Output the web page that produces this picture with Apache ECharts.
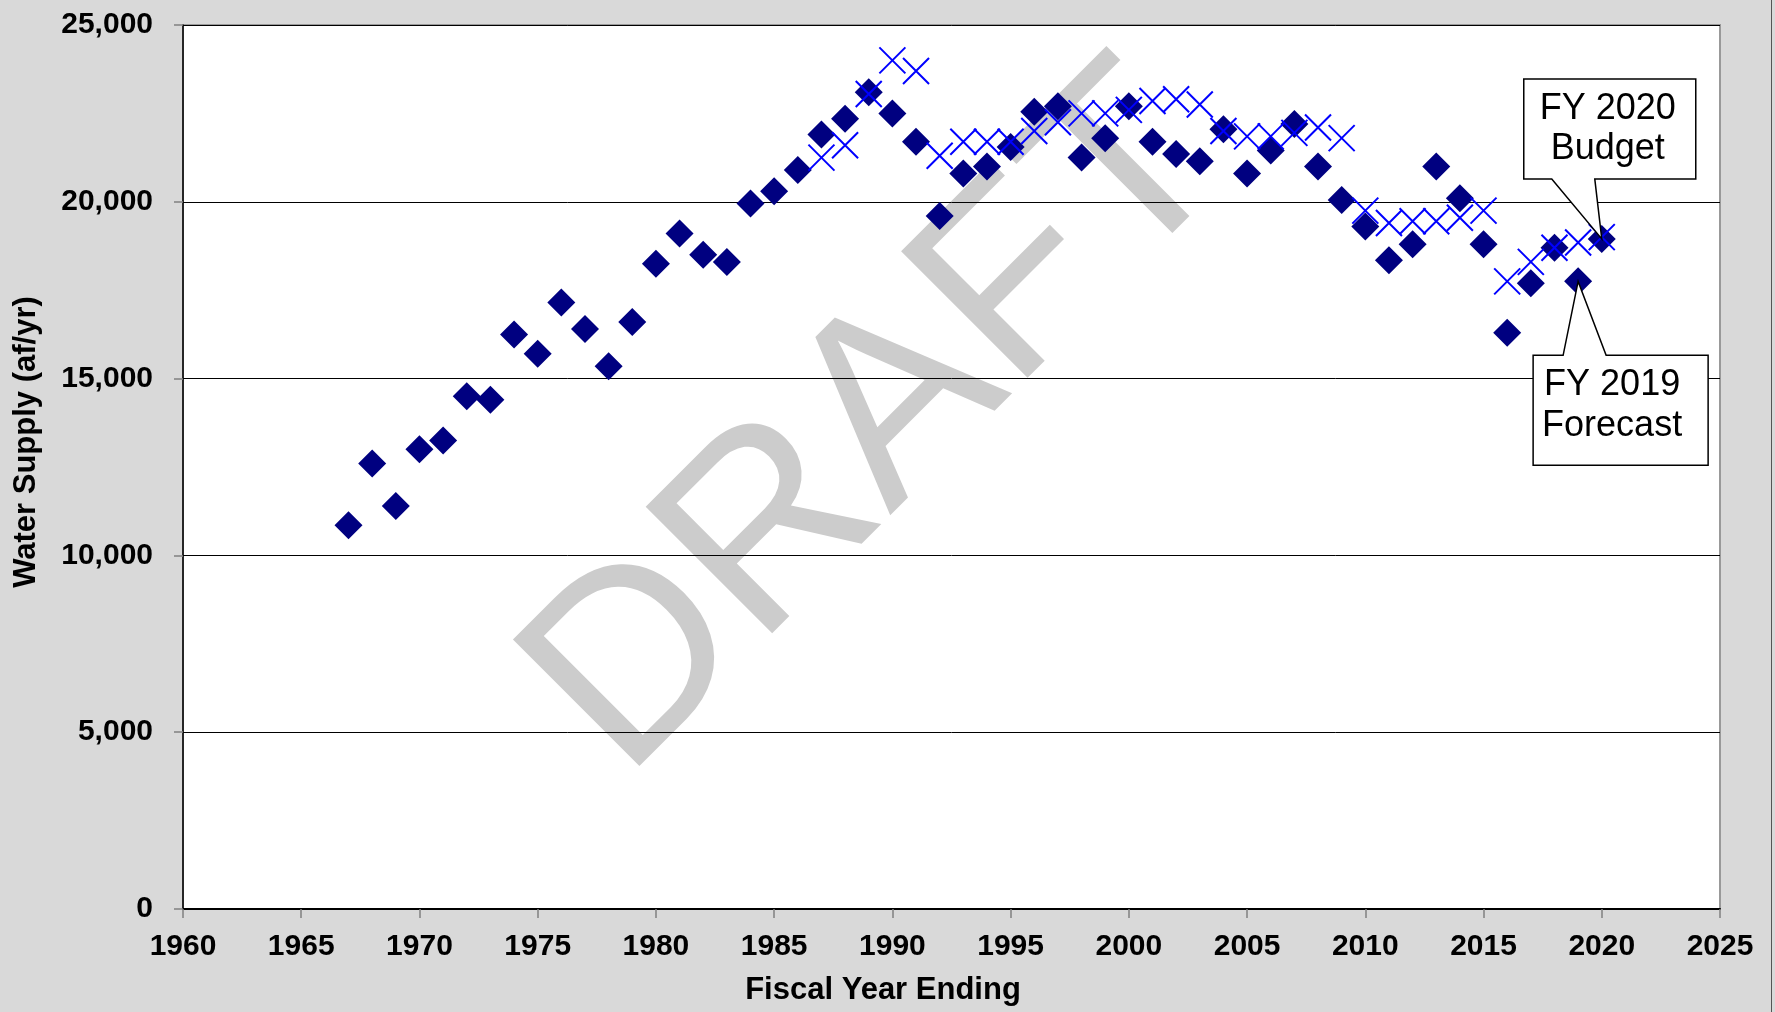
<!DOCTYPE html>
<html>
<head>
<meta charset="utf-8">
<script src="https://cdn.jsdelivr.net/npm/echarts@6/dist/echarts.min.js"></script>
<style>
html,body{margin:0;padding:0;background:#d9d9d9;}
#main{width:1775px;height:1012px;}
</style>
</head>
<body>
<div id="main"></div>
<script>
// ---------- DATA ----------
const actualYears = [1967,1968,1969,1970,1971,1972,1973,1974,1975,1976,1977,1978,1979,1980,1981,1982,1983,1984,1985,1986,1987,1988,1989,1990,1991,1992,1993,1994,1995,1996,1997,1998,1999,2000,2001,2002,2003,2004,2005,2006,2007,2008,2009,2010,2011,2012,2013,2014,2015,2016,2017,2018,2019,2020];
const actualSupply = [10850,12600,11400,13000,13250,14500,14400,16250,15700,17150,16400,15350,16600,18250,19100,18500,18300,19950,20300,20900,21900,22350,23100,22500,21700,19600,20800,21000,21550,22550,22700,21250,21800,22700,21700,21350,21150,22050,20800,21450,22200,21000,20050,19300,18350,18800,21000,20100,18800,16300,17700,18700,17750,18950];
const planYears = [1987,1988,1989,1990,1991,1992,1993,1994,1995,1996,1997,1998,1999,2000,2001,2002,2003,2004,2005,2006,2007,2008,2009,2010,2011,2012,2013,2014,2015,2016,2017,2018,2019,2020];
const planSupply = [21250,21600,23050,24000,23700,21300,21700,21700,21700,22000,22250,22500,22500,22600,22850,22900,22750,22000,21850,21850,21950,22100,21800,19750,19400,19450,19450,19550,19750,17750,18300,18700,18850,19000];
const xTickLabels = [1960,1965,1970,1975,1980,1985,1990,1995,2000,2005,2010,2015,2020,2025];
const yTickLabels = [0,5000,10000,15000,20000,25000];
const xTitle = 'Fiscal Year Ending';
const yTitle = 'Water Supply (af/yr)';
const watermarkText = 'DRAFT';
const calloutYears = [2020, 2019];
const calloutTexts = ['FY 2020\nBudget', 'FY 2019\nForecast'];

// ---------- CHART ----------
const FONT = "'Liberation Sans', Arial, sans-serif";
const chart = echarts.init(document.getElementById('main'), null, {renderer: 'canvas'});

const actualData = actualYears.map((y, i) => [y, actualSupply[i]]);
const planData = planYears.map((y, i) => [y, planSupply[i]]);

const option = {
  backgroundColor: '#d9d9d9',
  animation: false,
  grid: {
    left: 183, right: 55, top: 25, bottom: 103,
    show: true, backgroundColor: 'transparent',
    borderColor: '#999999', borderWidth: 2
  },
  xAxis: {
    type: 'value',
    min: xTickLabels[0], max: xTickLabels[xTickLabels.length - 1],
    interval: xTickLabels[1] - xTickLabels[0],
    axisLine: {show: true, onZero: false, lineStyle: {color: '#000', width: 2}},
    axisTick: {show: true, inside: false, length: 9, lineStyle: {color: '#808080', width: 1.5}},
    axisLabel: {margin: 23, fontSize: 30, fontWeight: 'bold', color: '#000', fontFamily: FONT,
      formatter: v => String(v)},
    splitLine: {show: false}
  },
  yAxis: {
    type: 'value',
    min: yTickLabels[0], max: yTickLabels[yTickLabels.length - 1],
    interval: yTickLabels[1] - yTickLabels[0],
    axisLine: {show: true, onZero: false, lineStyle: {color: '#000', width: 1.5}},
    axisTick: {show: true, inside: false, length: 9, lineStyle: {color: '#808080', width: 1.5}},
    axisLabel: {
      margin: 30, fontSize: 30, fontWeight: 'bold', color: '#000', fontFamily: FONT,
      formatter: v => Number(v).toLocaleString('en-US')
    },
    splitLine: {show: true, lineStyle: {color: '#000', width: 1}}
  },
  series: [
    {
      type: 'scatter',
      name: 'Actual',
      data: actualData,
      symbol: 'diamond',
      symbolSize: 28,
      itemStyle: {color: '#000080', opacity: 1},
      emphasis: {disabled: true},
      z: 3
    },
    {
      type: 'scatter',
      name: 'Plan',
      data: planData,
      symbol: 'path://M0,0L100,100M100,0L0,100',
      symbolSize: 26,
      itemStyle: {color: 'rgba(0,0,0,0)', borderColor: '#0000ff', borderWidth: 2, opacity: 1},
      emphasis: {disabled: true},
      z: 4
    }
  ]
};
chart.setOption(option);

// ---------- DECORATION / ANNOTATIONS ----------
const tl = chart.convertToPixel({gridIndex: 0}, [xTickLabels[0], yTickLabels[yTickLabels.length - 1]]);
const br = chart.convertToPixel({gridIndex: 0}, [xTickLabels[xTickLabels.length - 1], yTickLabels[0]]);

function tipOf(year) {
  const i = actualYears.indexOf(year);
  return chart.convertToPixel({gridIndex: 0}, [year, actualSupply[i]]);
}

const graphics = [];
// white plot background
graphics.push({
  type: 'rect', z: -10, silent: true,
  shape: {x: tl[0], y: tl[1], width: br[0] - tl[0], height: br[1] - tl[1]},
  style: {fill: '#ffffff'}
});
// DRAFT watermark
graphics.push({
  type: 'text', z: -5, silent: true,
  x: 880, y: 424, rotation: Math.PI / 4,
  style: {text: watermarkText, fontSize: 260, fontFamily: FONT, fill: '#cccccc', align: 'center', verticalAlign: 'middle'}
});
// axis titles
graphics.push({
  type: 'text', z: 10, silent: true,
  x: 883, y: 990,
  style: {text: xTitle, fontSize: 31, fontWeight: 'bold', fontFamily: FONT, fill: '#000', align: 'center', verticalAlign: 'middle'}
});
graphics.push({
  type: 'text', z: 10, silent: true,
  x: 26, y: 442, rotation: Math.PI / 2,
  style: {text: yTitle, fontSize: 31, fontWeight: 'bold', fontFamily: FONT, fill: '#000', align: 'center', verticalAlign: 'middle'}
});

// Callout: FY 2020 Budget (box above, wedge down to point)
(function () {
  const p = tipOf(calloutYears[0]);
  const x = p[0], y = p[1];
  const L = x - 78, R = x + 94, T = y - 160, B = y - 60;
  graphics.push({
    type: 'polygon', z: 20, silent: true,
    shape: {points: [[L, T], [R, T], [R, B], [x - 7, B], [x, y], [x - 50, B], [L, B]]},
    style: {fill: '#fff', stroke: '#000', lineWidth: 1.5}
  });
  graphics.push({
    type: 'text', z: 21, silent: true,
    x: x + 6, y: y - 110,
    style: {text: calloutTexts[0], fontSize: 36, fontFamily: FONT, fill: '#000', align: 'center', verticalAlign: 'middle', lineHeight: 40}
  });
})();

// Callout: FY 2019 Forecast (box below, wedge up to point)
(function () {
  const p = tipOf(calloutYears[1]);
  const x = p[0], y = p[1];
  const L = x - 45, R = x + 130, T = y + 74, B = y + 184;
  graphics.push({
    type: 'polygon', z: 20, silent: true,
    shape: {points: [[L, T], [x - 15, T], [x, y], [x + 28, T], [R, T], [R, B], [L, B]]},
    style: {fill: '#fff', stroke: '#000', lineWidth: 1.5}
  });
  graphics.push({
    type: 'text', z: 21, silent: true,
    x: x + 34, y: y + 124,
    style: {text: calloutTexts[1], fontSize: 36, fontFamily: FONT, fill: '#000', align: 'center', verticalAlign: 'middle', lineHeight: 41}
  });
})();

// thin outer frame line at right edge
graphics.push({
  type: 'line', z: 30, silent: true,
  shape: {x1: 1771.5, y1: 0, x2: 1771.5, y2: 1012},
  style: {stroke: '#555555', lineWidth: 1}
});

chart.setOption({graphic: {elements: graphics}});
</script>
</body>
</html>
